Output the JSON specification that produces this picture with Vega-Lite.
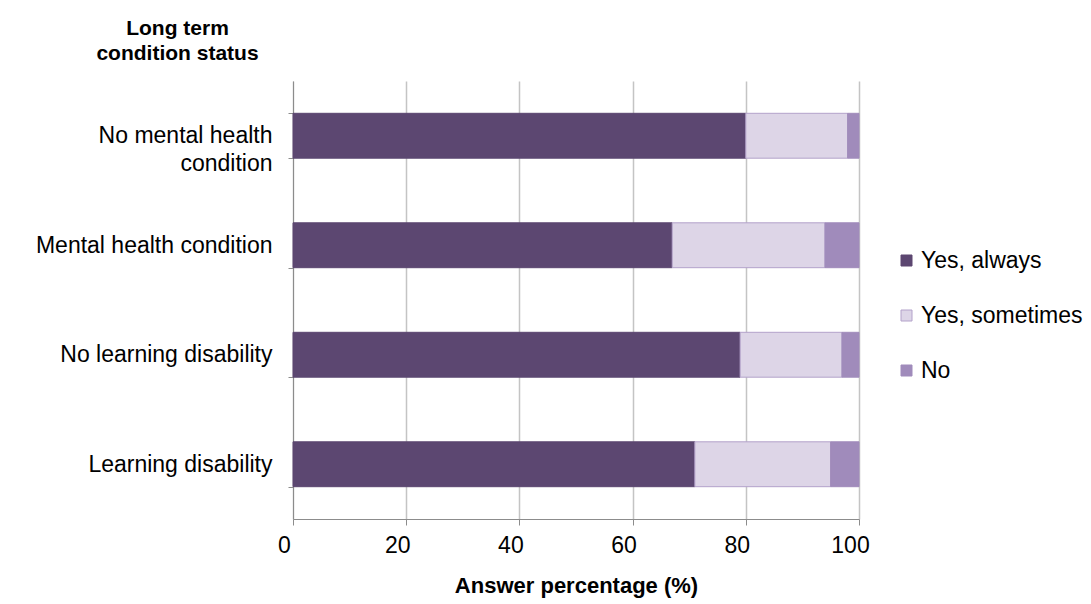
{
  "$schema": "https://vega.github.io/schema/vega-lite/v6.json",
  "width": 566,
  "height": 438,
  "autosize": "none",
  "padding": {"left": 293, "top": 81, "right": 232, "bottom": 85},
  "background": "white",
  "config": {"view": {"stroke": null}, "font": "Liberation Sans"},
  "data": {
    "values": [
      {"status": "No mental health condition", "answer": "Yes, always", "ord": 1, "pct": 80},
      {"status": "No mental health condition", "answer": "Yes, sometimes", "ord": 2, "pct": 18},
      {"status": "No mental health condition", "answer": "No", "ord": 3, "pct": 2},
      {"status": "Mental health condition", "answer": "Yes, always", "ord": 1, "pct": 67},
      {"status": "Mental health condition", "answer": "Yes, sometimes", "ord": 2, "pct": 27},
      {"status": "Mental health condition", "answer": "No", "ord": 3, "pct": 6},
      {"status": "No learning disability", "answer": "Yes, always", "ord": 1, "pct": 79},
      {"status": "No learning disability", "answer": "Yes, sometimes", "ord": 2, "pct": 18},
      {"status": "No learning disability", "answer": "No", "ord": 3, "pct": 3},
      {"status": "Learning disability", "answer": "Yes, always", "ord": 1, "pct": 71},
      {"status": "Learning disability", "answer": "Yes, sometimes", "ord": 2, "pct": 24},
      {"status": "Learning disability", "answer": "No", "ord": 3, "pct": 5}
    ]
  },
  "mark": {"type": "bar", "strokeWidth": 1},
  "encoding": {
    "y": {
      "field": "status",
      "type": "nominal",
      "sort": ["No mental health condition", "Mental health condition", "No learning disability", "Learning disability"],
      "scale": {"paddingInner": 0.59, "paddingOuter": 0.295},
      "axis": {
        "title": ["Long term", "condition status"],
        "titleAngle": 0,
        "titleAlign": "center",
        "titleBaseline": "top",
        "titleX": -116,
        "titleY": -64,
        "titleFontSize": 21,
        "titleFontWeight": "bold",
        "titleLineHeight": 25,
        "titleColor": "#000000",
        "labelFontSize": 23,
        "labelColor": "#000000",
        "labelPadding": 16,
        "labelLineHeight": 28,
        "labelLimit": 320,
        "labelExpr": "datum.label == 'No mental health condition' ? ['No mental health', 'condition'] : datum.label",
        "tickBand": "extent",
        "tickSize": 5,
        "tickColor": "#8c8c8c",
        "domainColor": "#8c8c8c",
        "grid": false
      }
    },
    "x": {
      "field": "pct",
      "type": "quantitative",
      "stack": "zero",
      "scale": {"domain": [0, 100]},
      "axis": {
        "title": "Answer percentage (%)",
        "titleFontSize": 22,
        "titleFontWeight": "bold",
        "titleColor": "#000000",
        "titlePadding": 18,
        "values": [0, 20, 40, 60, 80, 100],
        "labelFontSize": 23,
        "labelColor": "#000000",
        "labelPadding": 9,
        "labelFlush": false,
        "labelOffset": -9,
        "tickSize": 6,
        "tickColor": "#8c8c8c",
        "domainColor": "#8c8c8c",
        "grid": true,
        "gridColor": "#c4c4c4",
        "gridWidth": 1.5
      }
    },
    "color": {
      "field": "answer",
      "type": "nominal",
      "sort": ["Yes, always", "Yes, sometimes", "No"],
      "scale": {"domain": ["Yes, always", "Yes, sometimes", "No"], "range": ["#5c4771", "#ddd5e7", "#a08bbb"]},
      "legend": {
        "title": null,
        "orient": "none",
        "legendX": 602,
        "legendY": 168,
        "symbolType": "square",
        "symbolSize": 121,
        "symbolStrokeWidth": 1,
        "labelFontSize": 23,
        "labelColor": "#000000",
        "labelOffset": 3,
        "labelLimit": 300,
        "rowPadding": 31
      }
    },
    "stroke": {
      "field": "answer",
      "type": "nominal",
      "sort": ["Yes, always", "Yes, sometimes", "No"],
      "scale": {"domain": ["Yes, always", "Yes, sometimes", "No"], "range": ["#5c4771", "#b3a2ca", "#a08bbb"]}
    },
    "order": {"field": "ord", "type": "quantitative"}
  }
}
